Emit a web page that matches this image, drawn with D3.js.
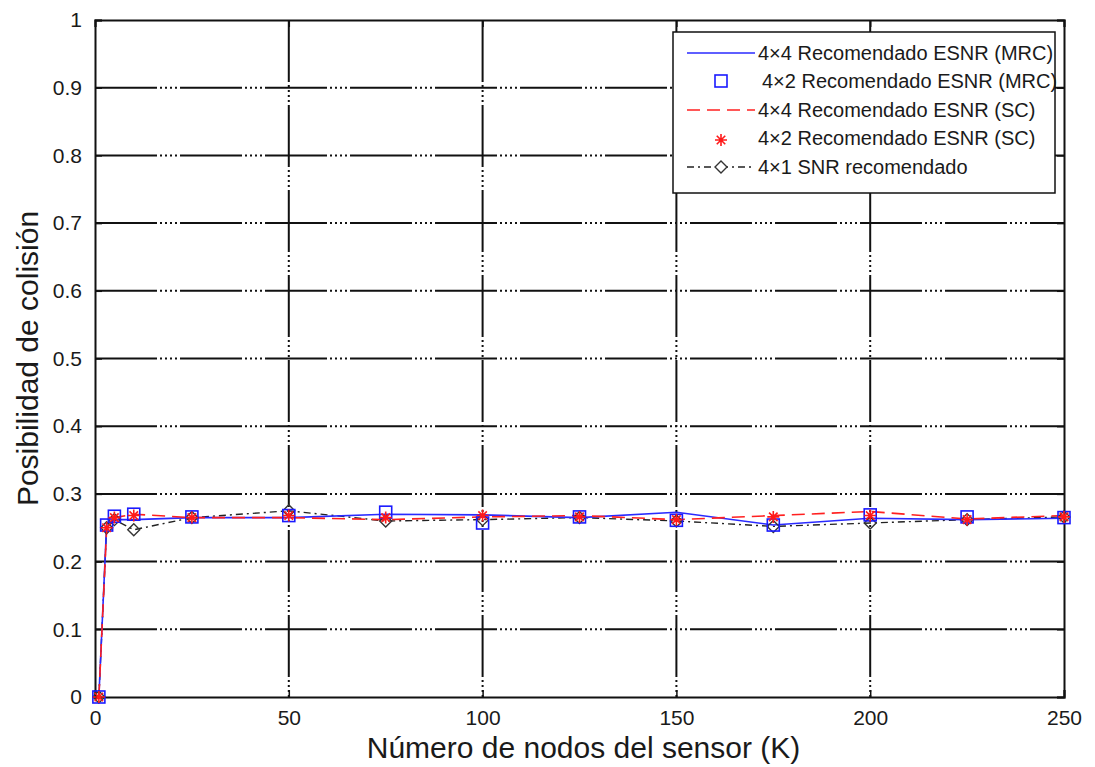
<!DOCTYPE html>
<html>
<head>
<meta charset="utf-8">
<script src="https://cdn.jsdelivr.net/npm/d3@7"></script>
<style>
  body { margin: 0; background: #fff; }
  text { font-family: "Liberation Sans", Arial, sans-serif; fill: #1a1a1a; }
</style>
</head>
<body>
<div class="chart"></div>
<script>
////////////////
// Data
////////////////
var nodes = [1, 3, 5, 10, 25, 50, 75, 100, 125, 150, 175, 200, 225, 250]

var mrc44 = [0, 0.255, 0.262, 0.262, 0.265, 0.265, 0.270, 0.269, 0.265, 0.273, 0.254, 0.264, 0.262, 0.264]
var mrc42 = [0, 0.254, 0.267, 0.270, 0.266, 0.268, 0.273, 0.257, 0.266, 0.261, 0.254, 0.269, 0.266, 0.265]
var sc44  = [0, 0.248, 0.265, 0.270, 0.265, 0.265, 0.262, 0.266, 0.268, 0.262, 0.268, 0.274, 0.263, 0.268]
var sc42  = [0, 0.250, 0.265, 0.268, 0.265, 0.268, 0.265, 0.268, 0.266, 0.262, 0.266, 0.268, 0.262, 0.266]
var snr41 = [0, 0.250, 0.262, 0.247, 0.265, 0.275, 0.260, 0.262, 0.265, 0.260, 0.252, 0.257, 0.262, 0.266]

var xTicks = [0, 50, 100, 150, 200, 250]
var yTicks = [0, 0.1, 0.2, 0.3, 0.4, 0.5, 0.6, 0.7, 0.8, 0.9, 1]

var legendLabels = ['4×4 Recomendado ESNR (MRC)', '4×2 Recomendado ESNR (MRC)',
                    '4×4 Recomendado ESNR (SC)', '4×2 Recomendado ESNR (SC)',
                    '4×1 SNR recomendado']

////////////////
// Setup
////////////////
var w = 1095, h = 767
var m = {left: 95, right: 1064, top: 20, bottom: 697}

var svg = d3.select('div.chart').append('svg')
  .attr('width', w).attr('height', h)

var x = d3.scaleLinear().domain([0, 250]).range([m.left, m.right])
var y = d3.scaleLinear().domain([0, 1]).range([m.bottom, m.top])

// grid
var gridDash = '62,3,2,3,2,3,2,3,2,3'
svg.append('g').selectAll('line').data(xTicks.slice(1, -1)).enter().append('line')
  .attr('x1', d => x(d)).attr('x2', d => x(d))
  .attr('y1', m.top).attr('y2', m.bottom)
  .attr('stroke', '#111').attr('stroke-width', 2).attr('stroke-dasharray', gridDash)
svg.append('g').selectAll('line').data(yTicks.slice(1, -1)).enter().append('line')
  .attr('x1', m.left).attr('x2', m.right)
  .attr('y1', d => y(d)).attr('y2', d => y(d))
  .attr('stroke', '#111').attr('stroke-width', 2).attr('stroke-dasharray', gridDash)

// axes
var xAxis = svg.append('g').attr('transform', `translate(0,${m.bottom})`)
  .call(d3.axisBottom(x).tickValues(xTicks).tickSize(-7).tickPadding(13))
var yAxis = svg.append('g').attr('transform', `translate(${m.left},0)`)
  .call(d3.axisLeft(y).tickValues(yTicks).tickSize(-7).tickPadding(13)
        .tickFormat(d => d === 0 || d === 1 ? d3.format('d')(d) : d3.format('.1f')(d)))
svg.append('g').attr('transform', `translate(0,${m.top})`)
  .call(d3.axisTop(x).tickValues(xTicks).tickSize(-7).tickFormat(''))
svg.append('g').attr('transform', `translate(${m.right},0)`)
  .call(d3.axisRight(y).tickValues(yTicks).tickSize(-7).tickFormat(''))

svg.selectAll('.domain').attr('stroke', '#111').attr('stroke-width', 2)
svg.selectAll('.tick line').attr('stroke', '#111').attr('stroke-width', 1.5)
svg.selectAll('.tick text').attr('font-size', 21).attr('fill', '#1a1a1a')
  .style('font-family', '"Liberation Sans", Arial, sans-serif')

// axis titles
svg.append('text').attr('x', (m.left + m.right) / 2 + 4).attr('y', 758)
  .attr('text-anchor', 'middle').attr('font-size', 30)
  .text('Número de nodos del sensor (K)')
svg.append('text').attr('transform', `translate(38,${(m.top + m.bottom) / 2}) rotate(-90)`)
  .attr('text-anchor', 'middle').attr('font-size', 30)
  .text('Posibilidad de colisión')

////////////////
// Series
////////////////
var line = d3.line().x(d => x(d[0])).y(d => y(d[1]))
var zipped = vals => nodes.map((n, i) => [n, vals[i]])

var plot = svg.append('g')

plot.append('path').attr('d', line(zipped(snr41)))
  .attr('fill', 'none').attr('stroke', '#222').attr('stroke-width', 1.4)
  .attr('stroke-dasharray', '7,4,2,4')
plot.append('path').attr('d', line(zipped(mrc44)))
  .attr('fill', 'none').attr('stroke', '#2a2aff').attr('stroke-width', 1.6)
plot.append('path').attr('d', line(zipped(sc44)))
  .attr('fill', 'none').attr('stroke', '#ff2020').attr('stroke-width', 1.6)
  .attr('stroke-dasharray', '13,7')

var diamond = (cx, cy, r) => `M${cx},${cy - r}L${cx + r},${cy}L${cx},${cy + r}L${cx - r},${cy}Z`
var star = (cx, cy, r) => {
  var p = ''
  for (var k = 0; k < 4; k++) {
    var a = k * Math.PI / 4
    p += `M${cx - r * Math.cos(a)},${cy - r * Math.sin(a)}L${cx + r * Math.cos(a)},${cy + r * Math.sin(a)}`
  }
  return p
}

plot.selectAll('path.dia').data(zipped(snr41)).enter().append('path').attr('class', 'dia')
  .attr('d', d => diamond(x(d[0]), y(d[1]), 6))
  .attr('fill', 'none').attr('stroke', '#333').attr('stroke-width', 1.4)
plot.selectAll('rect.sq').data(zipped(mrc42)).enter().append('rect').attr('class', 'sq')
  .attr('x', d => x(d[0]) - 6).attr('y', d => y(d[1]) - 6)
  .attr('width', 12).attr('height', 12)
  .attr('fill', 'none').attr('stroke', '#1a1aff').attr('stroke-width', 1.6)
plot.selectAll('path.st').data(zipped(sc42)).enter().append('path').attr('class', 'st')
  .attr('d', d => star(x(d[0]), y(d[1]), 6))
  .attr('fill', 'none').attr('stroke', '#ff1a1a').attr('stroke-width', 1.6)

////////////////
// Legend
////////////////
var lg = svg.append('g')
lg.append('rect').attr('x', 673).attr('y', 32).attr('width', 382).attr('height', 161)
  .attr('fill', '#fff').attr('stroke', '#111').attr('stroke-width', 1.5)

var rows = [53, 81, 110, 138, 167]
var lx1 = 687, lx2 = 755, mx = 721

lg.append('line').attr('x1', lx1).attr('x2', lx2).attr('y1', rows[0]).attr('y2', rows[0])
  .attr('stroke', '#2a2aff').attr('stroke-width', 1.6)
lg.append('rect').attr('x', mx - 6).attr('y', rows[1] - 6).attr('width', 12).attr('height', 12)
  .attr('fill', 'none').attr('stroke', '#1a1aff').attr('stroke-width', 1.6)
lg.append('line').attr('x1', lx1).attr('x2', lx2).attr('y1', rows[2]).attr('y2', rows[2])
  .attr('stroke', '#ff2020').attr('stroke-width', 1.6).attr('stroke-dasharray', '13,7')
lg.append('path').attr('d', star(mx, rows[3] + 2, 6))
  .attr('fill', 'none').attr('stroke', '#ff1a1a').attr('stroke-width', 1.6)
lg.append('line').attr('x1', lx1).attr('x2', lx2).attr('y1', rows[4]).attr('y2', rows[4])
  .attr('stroke', '#222').attr('stroke-width', 1.4).attr('stroke-dasharray', '7,4,2,4')
lg.append('path').attr('d', diamond(mx, rows[4], 6))
  .attr('fill', '#fff').attr('stroke', '#333').attr('stroke-width', 1.4)

lg.selectAll('text.lab').data(legendLabels).enter().append('text').attr('class', 'lab')
  .attr('x', (d, i) => i === 1 ? 762 : 758).attr('y', (d, i) => rows[i])
  .attr('dy', '0.35em').attr('font-size', 20)
  .text(d => d)
</script>
</body>
</html>
